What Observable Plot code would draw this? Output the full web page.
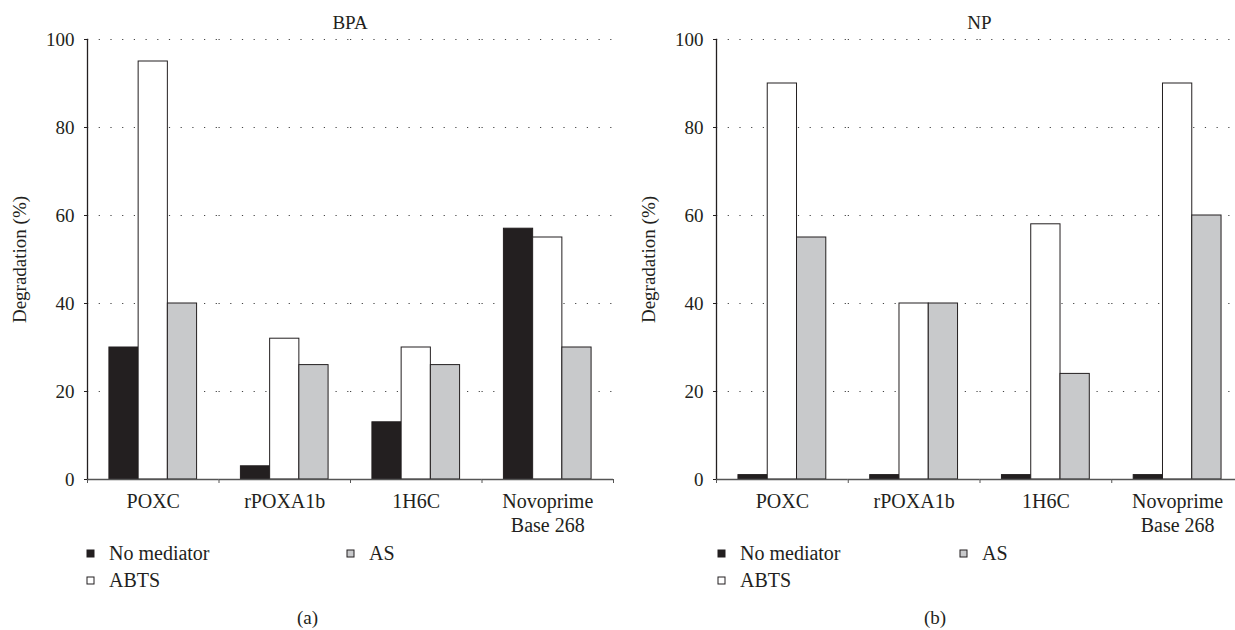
<!DOCTYPE html>
<html>
<head>
<meta charset="utf-8">
<script src="https://cdn.jsdelivr.net/npm/d3@7"></script>
<script src="https://cdn.jsdelivr.net/npm/@observablehq/plot@0.6"></script>
<style>
  html, body { margin: 0; padding: 0; background: #fff; overflow: hidden; }
  body { width: 1235px; height: 630px; position: relative; font-family: "Liberation Serif", serif; color: #231f20; }
  .panel { position: absolute; top: 0; }
  .title { height: 22px; padding-top: 12px; line-height: 22px; font-size: 19px; text-align: center; }
  .caption { text-align: center; font-size: 19px; line-height: 26px; margin-top: 11px; }
  .legwrap > div { font-family: "Liberation Serif", serif !important; font-size: 20px !important; column-gap: 0 !important; margin-top: 5px !important; margin-bottom: 0 !important; color: #231f20; }
  .legwrap > div > div { height: 27px; padding-bottom: 0 !important; }
  .legwrap > div > div > svg { margin-right: 15px !important; }
  .legwrap svg rect { stroke: #231f20; stroke-width: 1px; }
</style>
</head>
<body>
<script>
// ---- data ----
const categories = ["POXC", "rPOXA1b", "1H6C", "Novoprime\nBase 268"];
const series = ["No mediator", "ABTS", "AS"];
const seriesColors = ["#231f20", "#ffffff", "#c8c9cb"];

const bpaNoMediator = [30, 3, 13, 57];
const bpaABTS = [95, 32, 30, 55];
const bpaAS = [40, 26, 26, 30];

const npNoMediator = [1, 1, 1, 1];
const npABTS = [90, 40, 58, 90];
const npAS = [55, 40, 24, 60];

const yTicks = [0, 20, 40, 60, 80, 100];
const gridTicks = [20, 40, 60, 80, 100];
const yLabel = "Degradation (%)";

function toRows(arrays) {
  return categories.flatMap((category, i) =>
    series.map((s, j) => ({category, series: s, value: arrays[j][i]}))
  );
}

function panel({left, width, marginLeft, marginRight, legendWidth, legendLeft, title, caption, rows}) {
  const div = document.createElement("div");
  div.className = "panel";
  div.style.left = left + "px";
  div.style.width = width + "px";

  const t = document.createElement("div");
  t.className = "title";
  t.style.marginLeft = marginLeft + "px";
  t.style.marginRight = marginRight + "px";
  t.textContent = title;
  div.append(t);

  const band = (width - marginLeft - marginRight) / categories.length;

  const plot = Plot.plot({
    width,
    height: 501,
    marginLeft,
    marginRight,
    marginTop: 5,
    marginBottom: 56,
    style: {fontFamily: "'Liberation Serif', serif", fontSize: "19px", color: "#231f20", background: "transparent", overflow: "visible"},
    fx: {domain: categories, padding: 0, round: false, label: null},
    x: {domain: series, paddingInner: 0, paddingOuter: 0.75, round: false, axis: null},
    y: {domain: [0, 100]},
    color: {domain: series, range: seriesColors},
    marks: [
      Plot.ruleY(gridTicks, {stroke: "#444", strokeWidth: 1.2, strokeDasharray: "1.2,10.5"}),
      Plot.barY(rows, {fx: "category", x: "series", y: "value", fill: "series", stroke: "#231f20", strokeWidth: 1}),
      Plot.ruleY([0], {stroke: "#555", strokeWidth: 1.6}),
      Plot.frame({anchor: "left", stroke: "#231f20", strokeWidth: 1.3, facet: "super"}),
      Plot.axisY({ticks: yTicks, tickSize: 3, tickPadding: 10, fontSize: 19, label: yLabel, labelAnchor: "center", labelOffset: 75, labelArrow: "none"}),
      Plot.axisFx({anchor: "bottom", tickSize: 0, tickPadding: 11, fontSize: 20, lineHeight: 1.2, label: null}),
      Plot.axisFx({anchor: "bottom", tickSize: 4, tickFormat: () => "", dx: -band / 2, label: null, stroke: "#555"}),
      Plot.axisFx({anchor: "bottom", ticks: categories.slice(-1), tickSize: 4, tickFormat: () => "", dx: band / 2, label: null, stroke: "#555"})
    ]
  });
  div.append(plot);

  const leg = plot.legend("color", {columns: 2, swatchSize: 7, width: legendWidth, marginLeft: legendLeft});
  if (leg) {
    const w = document.createElement("div");
    w.className = "legwrap";
    w.append(leg);
    div.append(w);
  }

  const c = document.createElement("div");
  c.className = "caption";
  c.textContent = caption;
  div.append(c);

  document.body.append(div);
}

panel({left: 0, width: 615, marginLeft: 87, marginRight: 2, legendWidth: 520, legendLeft: 87,
  title: "BPA", caption: "(a)", rows: toRows([bpaNoMediator, bpaABTS, bpaAS])});
panel({left: 615, width: 640, marginLeft: 101, marginRight: 12, legendWidth: 484, legendLeft: 103,
  title: "NP", caption: "(b)", rows: toRows([npNoMediator, npABTS, npAS])});
</script>
</body>
</html>
